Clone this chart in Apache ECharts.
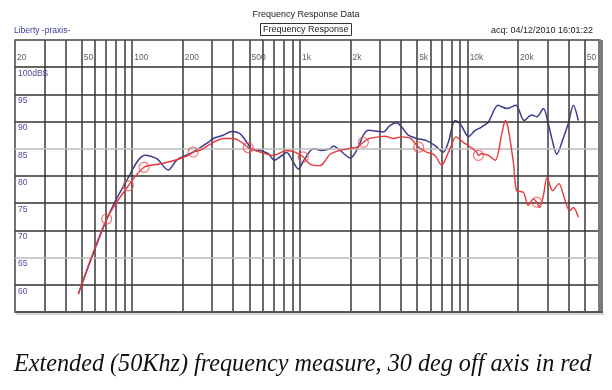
<!DOCTYPE html>
<html><head><meta charset="utf-8">
<script src="https://cdn.jsdelivr.net/npm/echarts@6/dist/echarts.min.js"></script>
<style>html,body{margin:0;padding:0;background:#fff}#c{width:612px;height:390px}</style>
</head><body><div id="c"></div>
<script>
// On-axis response (blue): [frequency Hz, dB]
const blueData = [
 [47.7,58.3],[70.4,72.0],[90.6,78.6],[119,83.8],[140,83.2],[164,81.1],[184,82.9],[216,84.0],
 [231,84.4],[284,86.2],[305,86.9],[349,87.5],[392,88.2],[439,87.8],[482,86.2],[515,85.0],
 [578,84.7],[648,84.1],[703,82.9],[760,83.5],[834,84.3],[914,82.5],[978,81.3],[1071,83.2],
 [1202,85.0],[1349,84.7],[1510,85.0],[1582,85.5],[1735,84.7],[2000,83.3],[2228,85.3],[2388,87.5],
 [2559,88.4],[2934,88.2],[3140,88.1],[3444,89.3],[3776,89.8],[4042,89.0],[4431,87.5],[4970,86.9],
 [5700,86.5],[6384,85.6],[7160,84.4],[7673,86.2],[8410,90.2],[9015,89.6],[9870,87.5],[10100,87.2],
 [11000,88.3],[12100,89.0],[13300,89.9],[13600,90.5],[15200,93.0],[17200,92.4],[19400,93.0],
 [21700,90.2],[24100,91.2],[25800,90.9],[28300,92.4],[30300,89.5],[32000,86.5],[34000,84.0],
 [37200,87.0],[39800,89.6],[42700,93.0],[45700,90.2]
];
// 30 deg off axis (red): [frequency Hz, dB]
const redData = [
 [47.7,58.3],[70.4,72.1],[94.8,78.2],[117.6,81.6],[146,82.2],[180,82.9],[216,83.8],[231,84.4],
 [253,84.7],[305,86.2],[349,86.9],[401,86.9],[450,86.2],[492,85.2],[578,84.4],[694,83.8],
 [834,84.7],[935,84.4],[1047,83.5],[1148,82.2],[1317,81.9],[1444,83.2],[1510,84.0],[1735,84.7],
 [2000,85.1],[2190,85.3],[2390,86.2],[2600,86.9],[2960,87.2],[3220,87.3],[3610,86.9],[4070,87.2],
 [4560,86.9],[5100,85.3],[5700,84.4],[6380,83.8],[7000,82.0],[7330,82.9],[8000,85.6],[8500,87.2],
 [9600,86.0],[9870,85.8],[11300,84.4],[11600,83.8],[12100,84.1],[13300,83.8],[14600,82.9],
 [16000,87.8],[16800,90.2],[17400,89.0],[18800,82.2],[19600,77.3],[21500,77.0],[23000,74.6],
 [24700,75.8],[25800,75.2],[26900,74.2],[28300,76.4],[29800,79.8],[32100,77.3],[35000,78.6],
 [37600,76.1],[40600,73.6],[42700,74.2],[45700,72.4]
];
// Circle markers on the red trace
const redMarkers = [[70.4,72.1],[94.8,78.2],[117.6,81.6],[231,84.4],[492,85.2],[1047,83.5],[2390,86.2],[5100,85.3],[11600,83.8],[25800,75.2]];
// X tick labels (frequency, text)
const xTickValues = [20,50,100,200,500,1000,2000,5000,10000,20000,50000];
const xTickLabels = ['20','50','100','200','500','1k','2k','5k','10k','20k','50'];
// Vertical grid line frequencies
const xGridValues = [30,40,50,60,70,80,90,100,200,300,400,500,600,700,800,900,1000,2000,3000,4000,5000,6000,7000,8000,9000,10000,20000,30000,40000,50000];
// Horizontal grid levels; light ones
const yGridValues = [60,65,70,75,80,85,90,95,100];
const yGridLight = [65,85];
const yLabelText = {60:'60',65:'65',70:'70',75:'75',80:'80',85:'85',90:'90',95:'95',100:'100dBS'};

const chart = echarts.init(document.getElementById('c'), null, {renderer:'canvas'});
const FONT = 'Liberation Sans';
const xLabelLevel = 101.7;

const gridLines = [];
xGridValues.forEach(v => gridLines.push({xAxis: v, lineStyle:{color:'#444', width:1.6, type:'solid'}}));
yGridValues.forEach(v => gridLines.push({yAxis: v, lineStyle:{color: yGridLight.includes(v) ? '#bdbdbd' : '#333', width:1.6, type:'solid'}}));

chart.setOption({
  animation: false,
  backgroundColor: '#fff',
  title: [
    {text:'Frequency Response Data', left:'center', top:8, padding:[2,0,0,0], textStyle:{fontFamily:FONT, fontSize:9, fontWeight:'normal', color:'#222'}},
    {text:'Frequency Response', left:260, top:23, padding:[2,3,2,3], borderColor:'#333', borderWidth:1, textStyle:{fontFamily:FONT, fontSize:9, fontWeight:'normal', color:'#222'}},
    {text:'Liberty -praxis-', left:14, top:26, padding:0, textStyle:{fontFamily:FONT, fontSize:8.5, fontWeight:'normal', color:'#3838a0'}},
    {text:'acq: 04/12/2010 16:01:22', right:19, top:26, padding:0, textStyle:{fontFamily:FONT, fontSize:9, fontWeight:'normal', color:'#222'}},
    {text:'Extended (50Khz) frequency measure, 30 deg off axis in red', left:14, top:353, padding:0, textStyle:{fontFamily:'Liberation Serif', fontStyle:'italic', fontSize:24.2, fontWeight:'normal', color:'#111'}}
  ],
  grid: {left:15, top:40, width:585, height:272, show:true, borderColor:'#444', borderWidth:1.5, backgroundColor:'#fff'},
  xAxis: {type:'log', logBase:10, min:20, max:61560, axisLine:{show:false}, axisTick:{show:false}, axisLabel:{show:false}, splitLine:{show:false}, minorSplitLine:{show:false}},
  yAxis: {type:'value', min:55, max:105, interval:5, axisLine:{show:false}, axisTick:{show:false}, splitLine:{show:false},
    axisLabel:{inside:true, margin:3, verticalAlign:'top', padding:[2,0,0,0], fontFamily:FONT, fontSize:8.5, color:'#4a4aa0',
      formatter: v => yLabelText[v] || ''}},
  graphic: [
    {type:'rect', shape:{x:598, y:40, width:5, height:273}, style:{fill:'#7a7a7a'}, z:100},
    {type:'rect', shape:{x:15, y:311, width:588, height:2}, style:{fill:'#555'}, z:100},
    {type:'rect', shape:{x:16, y:313, width:588, height:2}, style:{fill:'#d4d4d4'}, z:100}
  ],
  series: [
    {type:'line', data:[], z:1, silent:true, markLine:{silent:true, symbol:['none','none'], label:{show:false}, animation:false, data: gridLines}},
    {type:'scatter', z:2, silent:true, symbolSize:0, data: xTickValues.map((v,i)=>[v, xLabelLevel, xTickLabels[i]]),
      label:{show:true, position:'right', distance:2, formatter: p => p.data[2], fontFamily:FONT, fontSize:8.5, color:'#333'}},
    {type:'line', name:'On axis', data: blueData, z:4, showSymbol:false, smooth:0.3, lineStyle:{color:'#3b3b92', width:1.5}},
    {type:'line', name:'30 deg', data: redData, z:5, showSymbol:false, smooth:0.3, lineStyle:{color:'#e8383a', width:1.4}},
    {type:'scatter', name:'markers', data: redMarkers, z:6, symbol:'circle', symbolSize:10, itemStyle:{color:'rgba(0,0,0,0)', borderColor:'#ec5050', borderWidth:1.2}}
  ]
});
</script></body></html>
